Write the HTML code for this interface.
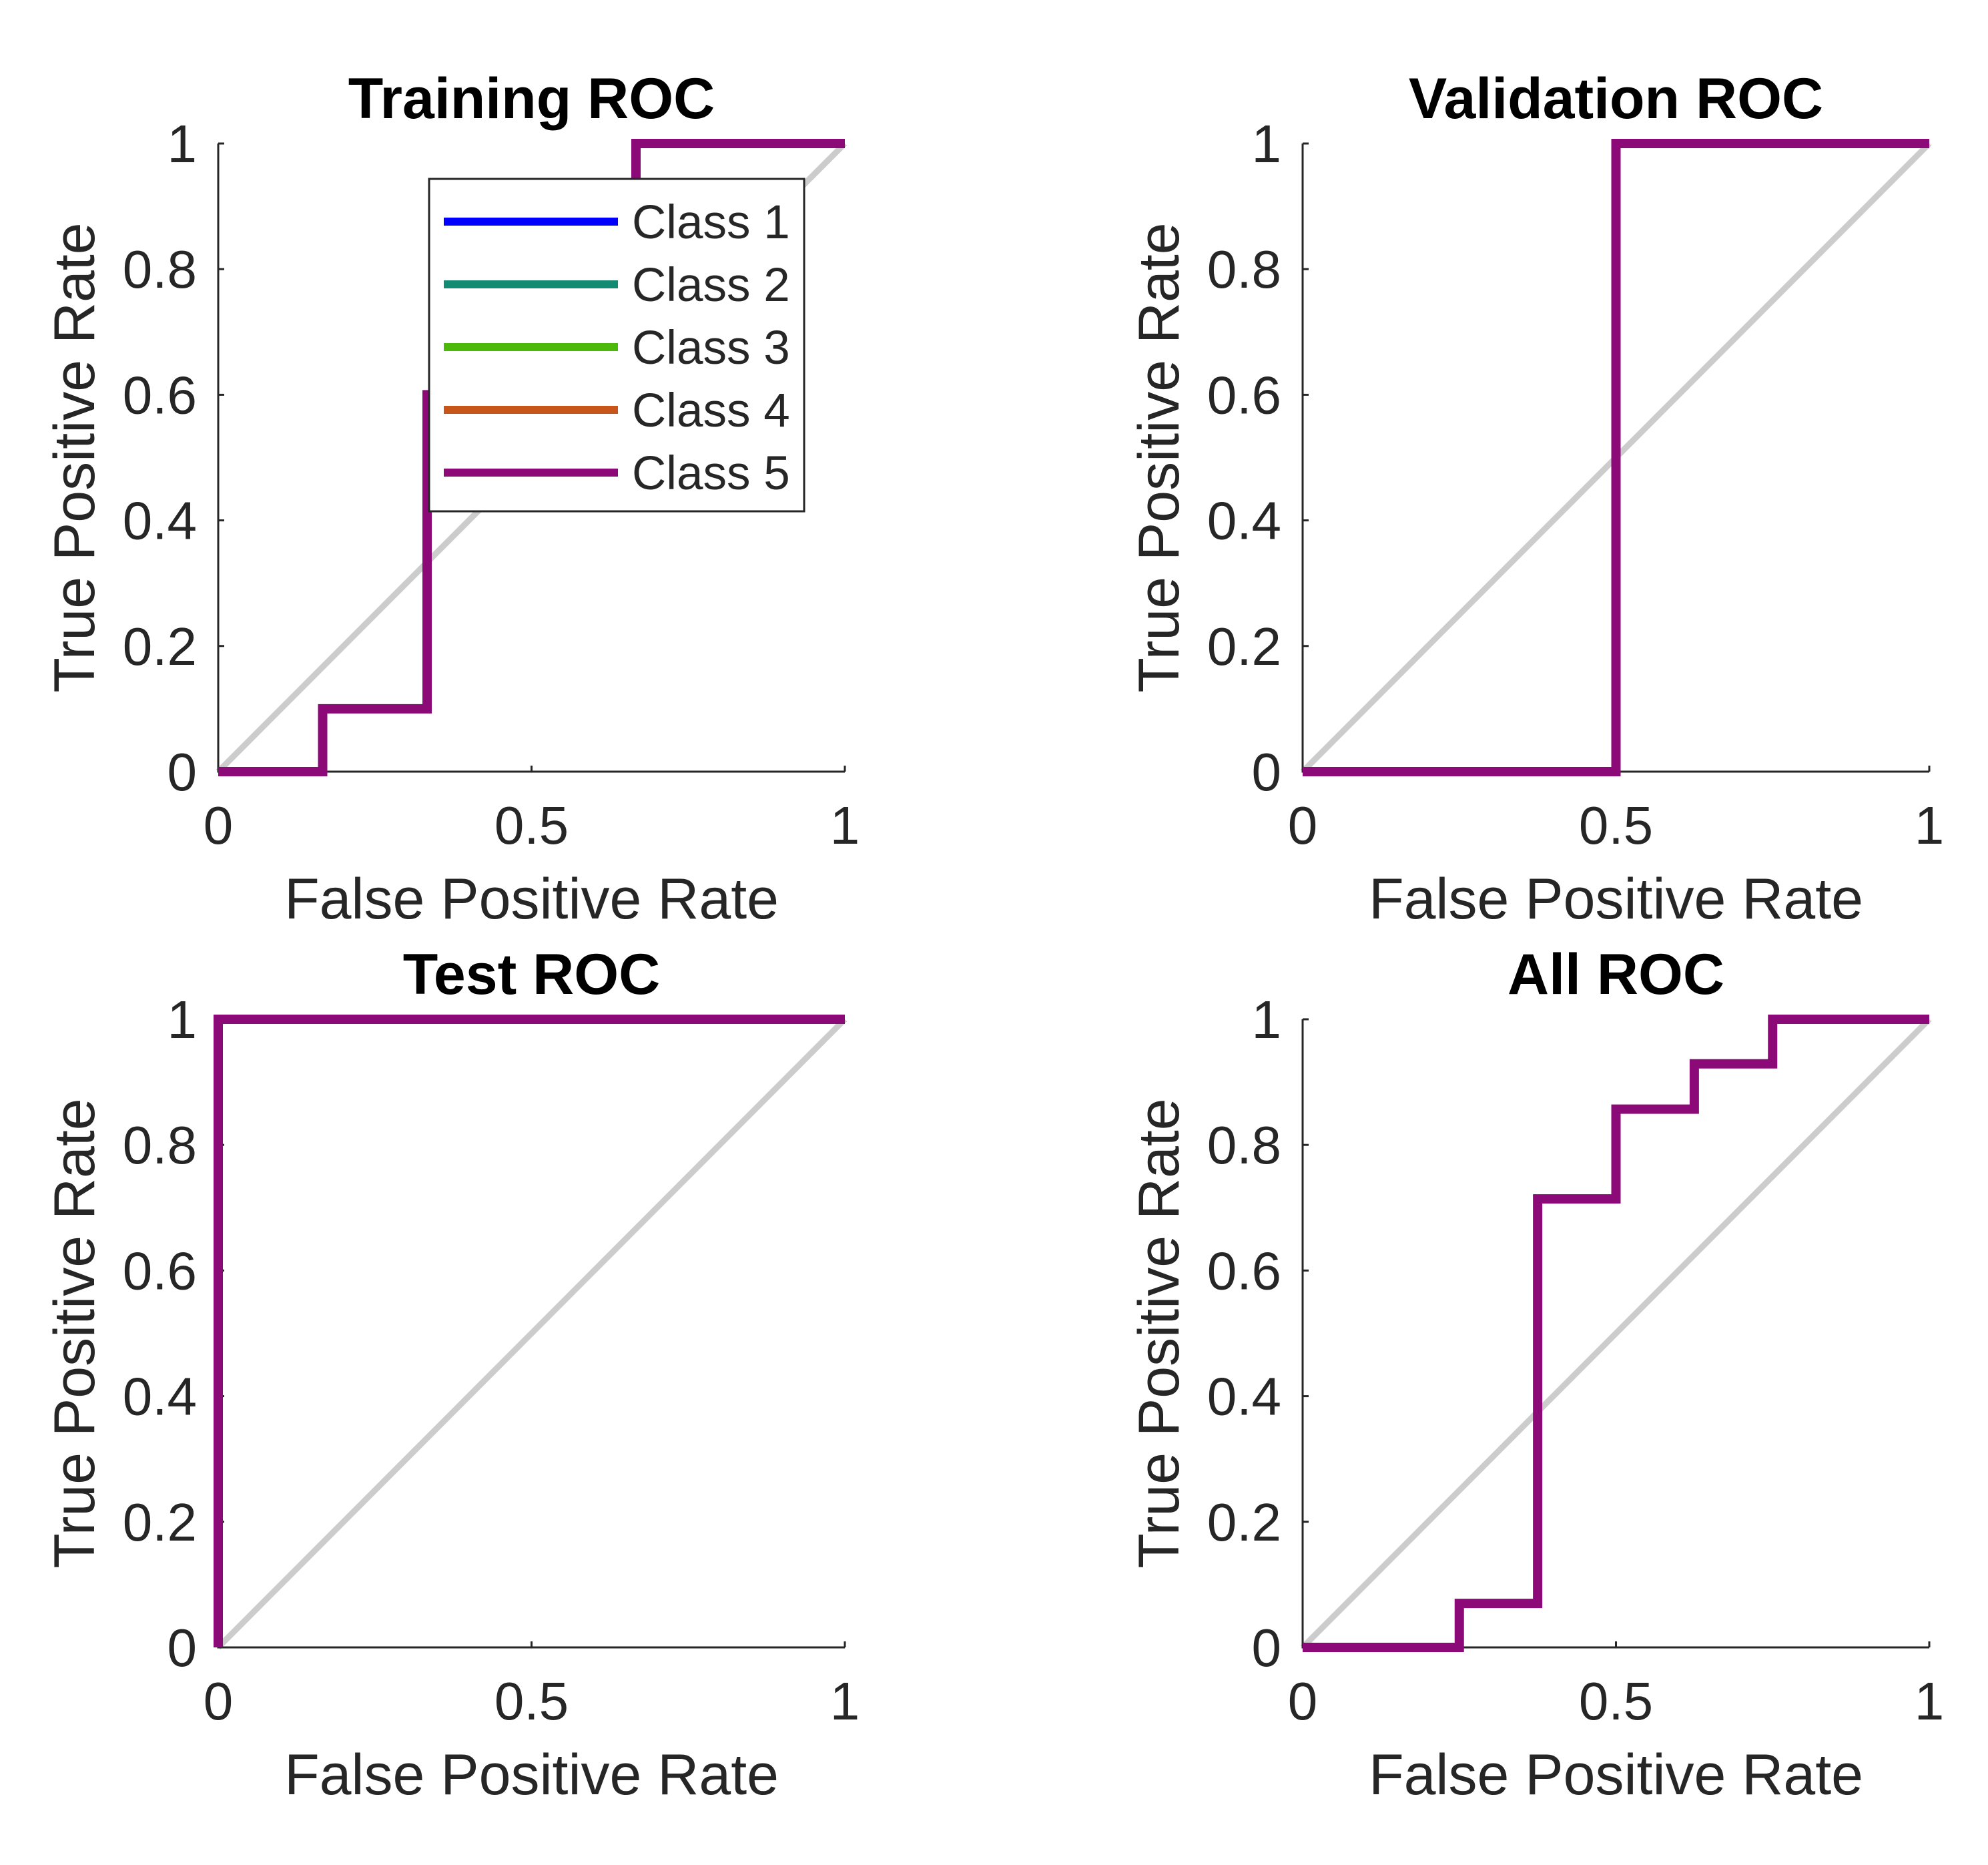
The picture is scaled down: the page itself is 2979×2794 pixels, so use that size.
<!DOCTYPE html>
<html><head><meta charset="utf-8"><style>
html,body{margin:0;padding:0;background:#fff;}
svg{display:block;font-family:"Liberation Sans",Arial,sans-serif;}
</style></head><body>
<svg id="fig" width="2979" height="2794" viewBox="0 0 2979 2794" xmlns="http://www.w3.org/2000/svg">
<rect width="2979" height="2794" fill="#fff"/>
</svg>
<script>
const panelTitles = ["Training ROC","Validation ROC","Test ROC","All ROC"];
const trainFPR = [0, 1/6, 1/6, 1/3, 1/3, 2/3, 2/3, 1];
const trainTPR = [0, 0, 0.1, 0.1, 0.6, 0.6, 1, 1];
const valFPR = [0, 0.5, 0.5, 1];
const valTPR = [0, 0, 1, 1];
const testFPR = [0, 0, 1];
const testTPR = [0, 1, 1];
const allFPR = [0, 0.25, 0.25, 0.375, 0.375, 0.5, 0.5, 0.625, 0.625, 0.75, 0.75, 1];
const allTPR = [0, 0, 0.07, 0.07, 0.714, 0.714, 0.857, 0.857, 0.929, 0.929, 1, 1];
const xTicks = [0, 0.5, 1];
const xTickLabels = ["0","0.5","1"];
const yTicks = [0, 0.2, 0.4, 0.6, 0.8, 1];
const yTickLabels = ["0","0.2","0.4","0.6","0.8","1"];
const legendLabels = ["Class 1","Class 2","Class 3","Class 4","Class 5"];
const legendColors = ["#0000ff","#138a72","#4cb80a","#c8561a","#8c0a78"];

const NS="http://www.w3.org/2000/svg";
const svg=document.getElementById('fig');
function mk(tag, attrs, parent){const e=document.createElementNS(NS,tag);for(const k in attrs)e.setAttribute(k,attrs[k]);(parent||svg).appendChild(e);return e;}
const panels=[
 {x0:327,x1:1266,y0:1156,y1:215,fx:trainFPR,ty:trainTPR,slug:'training'},
 {x0:1952,x1:2891,y0:1156,y1:215,fx:valFPR,ty:valTPR,slug:'validation'},
 {x0:327,x1:1266,y0:2468,y1:1527,fx:testFPR,ty:testTPR,slug:'test'},
 {x0:1952,x1:2891,y0:2468,y1:1527,fx:allFPR,ty:allTPR,slug:'all'}
];
panels.forEach((p,i)=>{
 const g=mk('g',{});
 
 
 const sx=v=>p.x0+v*(p.x1-p.x0), sy=v=>p.y0+v*(p.y1-p.y0);
 const diag=mk('line',{x1:sx(0),y1:sy(0),x2:sx(1),y2:sy(1),stroke:'#cccccc','stroke-width':9},g);
 
 
 const ax=mk('path',{d:`M${p.x0},${p.y1} L${p.x0},${p.y0} L${p.x1},${p.y0}`,fill:'none',stroke:'#262626','stroke-width':3},g);
 
 
 xTicks.forEach((t,k)=>{
  mk('line',{x1:sx(t),y1:p.y0,x2:sx(t),y2:p.y0-9,stroke:'#262626','stroke-width':3},g);
  const tl=mk('text',{x:sx(t),y:p.y0+108,'text-anchor':'middle','font-size':80,fill:'#262626'},g);
  tl.textContent=xTickLabels[k];
  
  
 });
 yTicks.forEach((t,k)=>{
  mk('line',{x1:p.x0,y1:sy(t),x2:p.x0+9,y2:sy(t),stroke:'#262626','stroke-width':3},g);
  const tl=mk('text',{x:p.x0-32,y:sy(t)+28,'text-anchor':'end','font-size':80,fill:'#262626'},g);
  tl.textContent=yTickLabels[k];
  
  
 });
 let d='';
 p.fx.forEach((v,k)=>{d+=(k?'L':'M')+sx(v)+','+sy(p.ty[k])+' ';});
 const curve=mk('path',{d:d,fill:'none',stroke:'#8c0a78','stroke-width':14,'stroke-linejoin':'miter'},g);
 
 
 const ti=mk('text',{x:(p.x0+p.x1)/2,y:p.y1-38,'text-anchor':'middle','font-size':86,'font-weight':'bold',fill:'#000'},g);
 ti.textContent=panelTitles[i];
 
 
 const xl=mk('text',{x:(p.x0+p.x1)/2,y:p.y0+220,'text-anchor':'middle','font-size':86,fill:'#262626'},g);
 xl.textContent='False Positive Rate';
 
 
 const cy=(p.y0+p.y1)/2, cx=p.x0-186;
 const yl=mk('text',{x:cx,y:cy,'text-anchor':'middle','font-size':86,fill:'#262626',transform:`rotate(-90 ${cx} ${cy})`},g);
 yl.textContent='True Positive Rate';
 
 
});
// legend
const lg=mk('g',{});


mk('rect',{x:643,y:268,width:562,height:498,fill:'#fff',stroke:'#262626','stroke-width':3},lg);
legendLabels.forEach((lab,k)=>{
 const y=332+k*94;
 const e=mk('g',{},lg);
 
 
 mk('line',{x1:665,y1:y,x2:926,y2:y,stroke:legendColors[k],'stroke-width':12},e);
 const t=mk('text',{x:947,y:y+25,'font-size':71,fill:'#262626'},e);
 t.textContent=lab;
});
</script>
</body></html>
